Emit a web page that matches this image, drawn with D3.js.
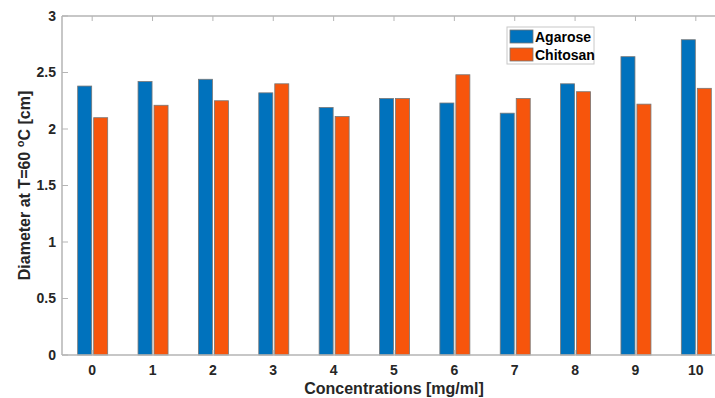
<!DOCTYPE html>
<html>
<head>
<meta charset="utf-8">
<script src="https://cdn.jsdelivr.net/npm/d3@7"></script>
<style>
  body { margin: 0; background: #fff; }
  svg text { font-family: "Liberation Sans", Arial, sans-serif; font-weight: bold; }
</style>
</head>
<body>
<div id="chart"></div>
<script>
// categories (concentration, mg/ml)
let concentrations = [0, 1, 2, 3, 4, 5, 6, 7, 8, 9, 10];
// diameters at T=60 °C [cm]
let agarose = [2.38, 2.42, 2.44, 2.32, 2.19, 2.27, 2.23, 2.14, 2.40, 2.64, 2.79];
let chitosan = [2.10, 2.21, 2.25, 2.40, 2.11, 2.27, 2.48, 2.27, 2.33, 2.22, 2.36];
let seriesNames = ['Agarose', 'Chitosan'];
let yTicks = [0, 0.5, 1, 1.5, 2, 2.5, 3];

let width = 715, height = 398;
let mLeft = 62, mTop = 16, mBottom = 355, mRight = 726;
let colors = ['#0072BD', '#F7550C'];
let axisColor = '#b5b5b5';

let svg = d3.select('#chart').append('svg')
  .attr('width', width)
  .attr('height', height);

let x = d3.scaleLinear().domain([-0.5, 10.5]).range([mLeft, mRight]);
let y = d3.scaleLinear().domain([0, 3]).range([mBottom, mTop]);

let barW = 14;
let offsets = [-7.5, 8.5];

// bars
[agarose, chitosan].forEach((vals, s) => {
  svg.append('g').selectAll('rect')
    .data(vals)
    .join('rect')
    .attr('x', (d, i) => x(concentrations[i]) + offsets[s] - barW / 2)
    .attr('y', d => y(d))
    .attr('width', barW)
    .attr('height', d => y(0) - y(d))
    .attr('fill', colors[s])
    .attr('stroke', '#777')
    .attr('stroke-width', 0.8);
});

// box lines
svg.append('line').attr('x1', mLeft).attr('x2', mRight).attr('y1', mTop).attr('y2', mTop)
  .attr('stroke', axisColor).attr('stroke-width', 1.5);
svg.append('line').attr('x1', mLeft).attr('x2', mRight).attr('y1', mBottom).attr('y2', mBottom)
  .attr('stroke', axisColor).attr('stroke-width', 1.5);
svg.append('line').attr('x1', mLeft).attr('x2', mLeft).attr('y1', mTop).attr('y2', mBottom)
  .attr('stroke', axisColor).attr('stroke-width', 1.5);

// x ticks (bottom and top, inward)
let xAxis = svg.append('g');
concentrations.forEach(c => {
  xAxis.append('line').attr('x1', x(c)).attr('x2', x(c)).attr('y1', mTop).attr('y2', mTop + 5)
    .attr('stroke', axisColor);
  xAxis.append('line').attr('x1', x(c)).attr('x2', x(c)).attr('y1', mBottom).attr('y2', mBottom - 5)
    .attr('stroke', axisColor);
  xAxis.append('text')
    .attr('x', x(c)).attr('y', 375)
    .attr('text-anchor', 'middle')
    .attr('font-size', 14)
    .attr('fill', '#262626')
    .text(c);
});

// y ticks
let yAxis = svg.append('g');
yTicks.forEach(t => {
  yAxis.append('line').attr('x1', mLeft).attr('x2', mLeft + 6).attr('y1', y(t)).attr('y2', y(t))
    .attr('stroke', axisColor);
  yAxis.append('text')
    .attr('x', 56).attr('y', y(t))
    .attr('dy', '0.35em')
    .attr('text-anchor', 'end')
    .attr('font-size', 14)
    .attr('fill', '#262626')
    .text(t);
});

// axis titles
svg.append('text')
  .attr('x', 394).attr('y', 394)
  .attr('text-anchor', 'middle')
  .attr('font-size', 16)
  .attr('fill', '#262626')
  .text('Concentrations [mg/ml]');

let yl = svg.append('text')
  .attr('transform', 'translate(30,' + (mTop + mBottom) / 2 + ') rotate(-90)')
  .attr('text-anchor', 'middle')
  .attr('font-size', 16)
  .attr('fill', '#262626');
yl.append('tspan').text('Diameter at T=60 ');
yl.append('tspan').attr('font-size', 11).attr('dy', -6).text('o');
yl.append('tspan').attr('dy', 6).text('C [cm]');

// legend
let lg = svg.append('g').attr('transform', 'translate(507,27)');
lg.append('rect').attr('width', 87).attr('height', 37)
  .attr('fill', '#fff').attr('stroke', '#c8c8c8');
seriesNames.forEach((n, i) => {
  lg.append('rect').attr('x', 3).attr('y', 3 + i * 18).attr('width', 23).attr('height', 13)
    .attr('fill', colors[i]).attr('stroke', '#777').attr('stroke-width', 0.8);
  lg.append('text').attr('x', 28).attr('y', 10 + i * 18).attr('dy', '0.35em')
    .attr('font-size', 14).attr('fill', '#000').text(n);
});
</script>
</body>
</html>
